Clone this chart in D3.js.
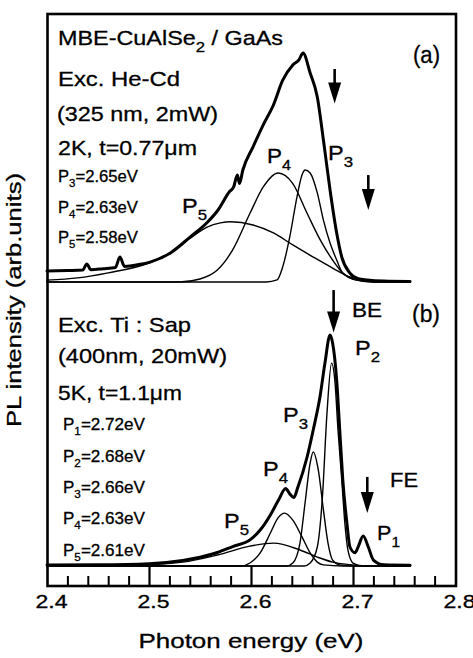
<!DOCTYPE html>
<html>
<head>
<meta charset="utf-8">
<script src="https://cdn.jsdelivr.net/npm/d3@7"></script>
<style>body{margin:0;background:#fff}</style>
</head>
<body>
<script>
// (a) MBE-CuAlSe2 / GaAs, He-Cd excitation, 2K -- [energy eV, intensity arb.u.]
var mainA = [[2.400,4.8],[2.420,5.0],[2.435,5.2],[2.439,7.9],[2.443,5.4],[2.455,5.8],[2.467,6.3],
  [2.4715,10.9],[2.476,6.8],[2.490,7.6],[2.501,8.7],[2.521,12.7],[2.540,19.5],[2.557,26],
  [2.567,31],[2.579,39.5],[2.583,41.5],[2.5866,46.7],[2.5887,43],[2.592,48.9],[2.602,59.0],
  [2.612,68.6],[2.622,77.3],[2.631,88],[2.641,94.8],[2.647,97],[2.651,100],[2.658,91.3],
  [2.665,80.8],[2.671,62.0],[2.6775,40.2],[2.684,21.4],[2.689,10.9],[2.697,3.9],[2.705,1.5],
  [2.714,0.9],[2.730,0.4],[2.756,0.2]];
var p5A = [[2.400,0.8],[2.430,1.8],[2.460,4.0],[2.500,8.3],[2.520,12.5],[2.540,19],[2.557,24],
  [2.570,25.8],[2.580,26.3],[2.602,24.9],[2.622,21.4],[2.641,16.2],[2.661,10.9],[2.680,6.1],
  [2.697,2.2],[2.720,0.6],[2.756,0.1]];
var p4A = [[2.400,0],[2.530,0],[2.550,1.3],[2.567,5.2],[2.582,14],[2.599,30],[2.612,41.5],
  [2.6265,47.6],[2.641,43],[2.655,30],[2.668,18.3],[2.680,9.6],[2.690,3.9],[2.700,1.2],
  [2.720,0],[2.756,0]];
var p3A = [[2.400,0],[2.615,0],[2.6255,0.9],[2.631,6.5],[2.638,19.7],[2.645,37],[2.650,46.7],
  [2.653,48.9],[2.658,47.6],[2.665,38.9],[2.671,27],[2.6775,17],[2.684,9.6],[2.690,3.9],
  [2.703,0.9],[2.720,0],[2.756,0]];

// (b) Ti:Sapphire excitation, 5K
var mainB = [[2.400,0.4],[2.450,0.5],[2.500,1.0],[2.533,2.4],[2.550,3.8],[2.567,5.9],[2.582,8.5],
  [2.599,11.4],[2.609,15.7],[2.619,22.3],[2.627,28.8],[2.634,33.8],[2.638,31.5],[2.642,29.9],
  [2.646,34.5],[2.655,47.6],[2.661,59.4],[2.6676,73.8],[2.6725,88.6],[2.6775,100.9],[2.680,97.4],
  [2.684,81.2],[2.687,59.4],[2.690,37.6],[2.694,18.8],[2.697,8.3],[2.702,5.8],[2.705,8.3],
  [2.710,13.1],[2.715,8.3],[2.720,2.6],[2.730,0.5],[2.756,0.3]];
var p5B = [[2.400,0],[2.480,0.3],[2.533,1.7],[2.567,4.8],[2.599,8.7],[2.622,10],[2.648,7],
  [2.665,3.9],[2.680,1.7],[2.697,0.6],[2.720,0],[2.756,0]];
var p4B = [[2.400,0],[2.590,0],[2.599,1.3],[2.609,5.7],[2.619,14.4],[2.6265,21],[2.633,23.1],
  [2.641,20],[2.650,12.7],[2.658,5.7],[2.665,1.7],[2.671,0.5],[2.690,0],[2.756,0]];
var p3B = [[2.400,0],[2.635,0],[2.641,1.3],[2.648,10],[2.653,27.5],[2.658,45],[2.661,49.8],
  [2.666,41.9],[2.671,24.5],[2.6755,10],[2.680,2.6],[2.687,0.5],[2.700,0],[2.756,0]];
var p2B = [[2.400,0],[2.652,0],[2.658,1.3],[2.665,8.3],[2.670,30],[2.6745,66.8],[2.679,88.6],
  [2.6824,79.9],[2.6853,59.4],[2.689,37.6],[2.692,18.8],[2.695,7],[2.700,1.3],[2.710,0],[2.756,0]];

// BE / FE markers: [energy, arrow top, arrow tip] in intensity units
var arrowsA = [[2.682,93,78],[2.715,46.7,31.4]];
var arrowsB = [[2.681,120.5,102],[2.714,38.9,23.1]];

var tickLabels = [2.4, 2.5, 2.6, 2.7, 2.8];
var majorTicks = [2.5, 2.6, 2.7];
var minorTicks = [2.42,2.44,2.46,2.48,2.52,2.54,2.56,2.58,2.62,2.64,2.66,2.68,2.72,2.74,2.76,2.78];

var svg = d3.select("body").append("svg")
  .attr("width", 473).attr("height", 658)
  .style("font-family", "'Liberation Sans', Arial, sans-serif");

var x = d3.scaleLinear().domain([2.4, 2.8]).range([47, 455]);
var yA = d3.scaleLinear().domain([0, 100]).range([282, 53]);
var yB = d3.scaleLinear().domain([0, 100]).range([566, 337]);

function draw(data, y, w) {
  var line = d3.line().x(d => x(d[0])).y(d => y(d[1])).curve(d3.curveMonotoneX);
  svg.append("path").attr("d", line(data))
    .attr("fill", "none").attr("stroke", "#000")
    .attr("stroke-width", w).attr("stroke-linejoin", "round").attr("stroke-linecap", "round");
}

// fitted components first, thin
[p5A, p4A, p3A].forEach(d => draw(d, yA, 1.4));
[p5B, p4B, p3B, p2B].forEach(d => draw(d, yB, 1.4));
// measured spectra, thick
draw(mainA, yA, 3);
draw(mainB, yB, 3);

// arrows
function arrow(a, y) {
  var cx = x(a[0]), top = y(a[1]), tip = y(a[2]);
  svg.append("line").attr("x1", cx).attr("x2", cx).attr("y1", top).attr("y2", tip - 12)
    .attr("stroke", "#000").attr("stroke-width", 2.6);
  svg.append("path")
    .attr("d", "M" + (cx - 6.5) + "," + (tip - 21) + "L" + (cx + 6.5) + "," + (tip - 21) + "L" + cx + "," + tip + "Z")
    .attr("fill", "#000");
}
arrowsA.forEach(a => arrow(a, yA));
arrowsB.forEach(a => arrow(a, yB));

// ticks along the bottom of the frame
svg.append("g").attr("transform", "translate(0,586)")
  .call(d3.axisTop(x).tickValues(majorTicks).tickSize(20).tickFormat(""))
  .call(g => g.select(".domain").remove())
  .selectAll("line").attr("stroke-width", 2.2);
svg.append("g").attr("transform", "translate(0,586)")
  .call(d3.axisTop(x).tickValues(minorTicks).tickSize(10).tickFormat(""))
  .call(g => g.select(".domain").remove())
  .selectAll("line").attr("stroke-width", 2);

var lab = svg.append("g").attr("transform", "translate(0,586)")
  .call(d3.axisBottom(x).tickValues(tickLabels).tickSize(0).tickPadding(9).tickFormat(d3.format(".1f")))
  .attr("font-family", null).attr("font-size", 18);
lab.select(".domain").remove();
lab.selectAll("text").attr("x", 4).attr("fill", "#000")
  .attr("stroke", "#000").attr("stroke-width", 0.3)
  .attr("textLength", 32).attr("lengthAdjust", "spacingAndGlyphs");

// frame
svg.append("rect").attr("x", 47.5).attr("y", 14).attr("width", 408.5).attr("height", 572)
  .attr("fill", "none").attr("stroke", "#000").attr("stroke-width", 2.6);

// text helper: parts = [[string, isSubscript], ...]
function label(px, py, parts, fs, w) {
  var t = svg.append("text").attr("x", px).attr("y", py).attr("font-size", fs)
    .attr("fill", "#000").attr("stroke", "#000").attr("stroke-width", 0.3);
  var shift = 0;
  parts.forEach(function(p) {
    var s = t.append("tspan").text(p[0]);
    var want = p[1] ? Math.round(fs * 0.33) : 0;
    if (want !== shift) { s.attr("dy", want - shift); shift = want; }
    if (p[1]) s.attr("font-size", Math.round(fs * 0.7));
  });
  if (w) t.attr("textLength", w).attr("lengthAdjust", "spacingAndGlyphs");
  return t;
}

// panel (a)
label(58, 45, [["MBE-CuAlSe"], ["2", 1], [" / GaAs"]], 21, 225);
label(413, 63, [["(a)"]], 23, 27);
label(58, 86, [["Exc. He-Cd"]], 21, 122);
label(57, 121, [["(325 nm, 2mW)"]], 21, 161);
label(58, 155, [["2K, t=0.77\u03bcm"]], 21, 139);
label(58, 182, [["P"], ["3", 1], ["=2.65eV"]], 16, 80);
label(58, 213, [["P"], ["4", 1], ["=2.63eV"]], 16, 80);
label(58, 243, [["P"], ["5", 1], ["=2.58eV"]], 16, 80);
label(182, 213, [["P"], ["5", 1]], 21, 25);
label(267, 163, [["P"], ["4", 1]], 21, 24);
label(328, 160, [["P"], ["3", 1]], 21, 25);

// panel (b)
label(352, 317, [["BE"]], 21, 30);
label(412, 322, [["(b)"]], 23, 28);
label(58, 332, [["Exc. Ti : Sap"]], 21, 133);
label(58, 363, [["(400nm, 20mW)"]], 21, 169);
label(58, 400, [["5K, t=1.1\u03bcm"]], 21, 124);
label(63, 430, [["P"], ["1", 1], ["=2.72eV"]], 16, 82);
label(63, 462, [["P"], ["2", 1], ["=2.68eV"]], 16, 82);
label(63, 493, [["P"], ["3", 1], ["=2.66eV"]], 16, 82);
label(63, 524, [["P"], ["4", 1], ["=2.63eV"]], 16, 82);
label(63, 556, [["P"], ["5", 1], ["=2.61eV"]], 16, 82);
label(355, 355, [["P"], ["2", 1]], 21, 25);
label(283, 422, [["P"], ["3", 1]], 21, 25);
label(263, 476, [["P"], ["4", 1]], 21, 25);
label(224, 528, [["P"], ["5", 1]], 21, 25);
label(390, 487, [["FE"]], 21, 28);
label(377, 540, [["P"], ["1", 1]], 21, 23);

// axis titles
svg.append("text").attr("x", 251).attr("y", 648).attr("text-anchor", "middle")
  .attr("font-size", 21).attr("stroke", "#000").attr("stroke-width", 0.3)
  .attr("textLength", 225).attr("lengthAdjust", "spacingAndGlyphs")
  .text("Photon energy (eV)");
svg.append("text").attr("transform", "translate(21,300) rotate(-90)").attr("text-anchor", "middle")
  .attr("font-size", 21).attr("stroke", "#000").attr("stroke-width", 0.3)
  .attr("textLength", 254).attr("lengthAdjust", "spacingAndGlyphs")
  .text("PL intensity (arb.units)");
</script>
</body>
</html>
